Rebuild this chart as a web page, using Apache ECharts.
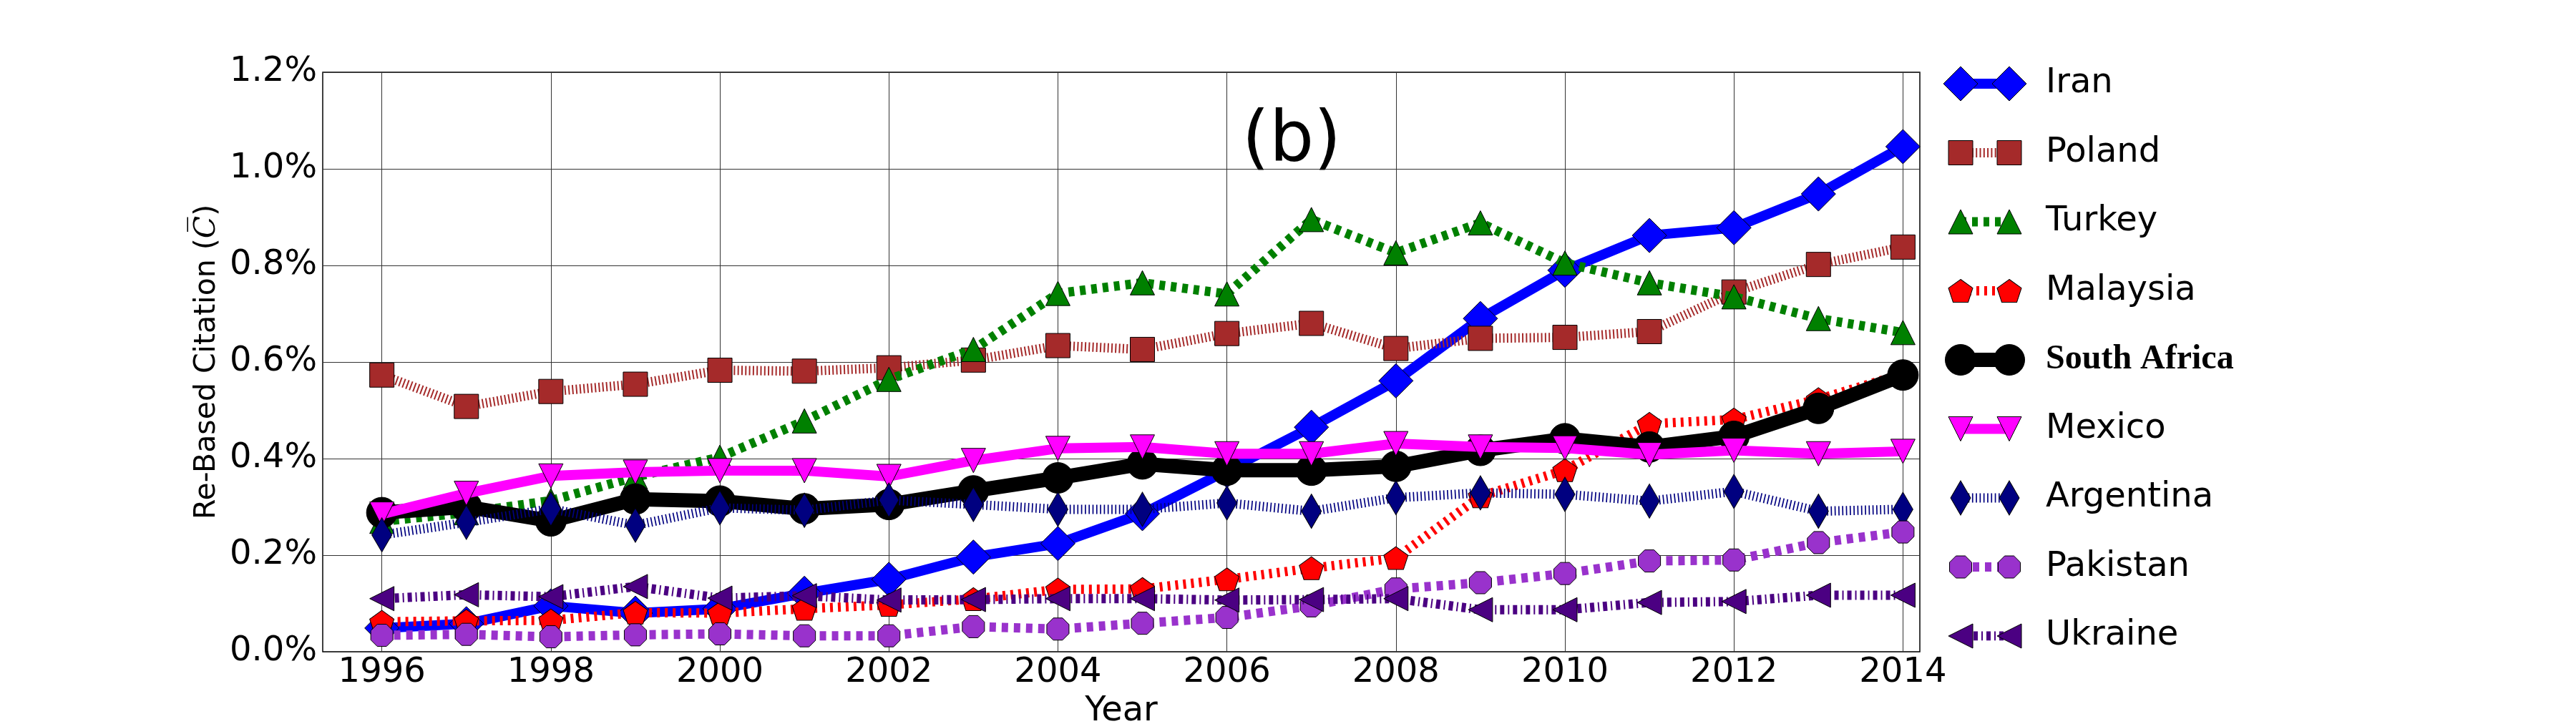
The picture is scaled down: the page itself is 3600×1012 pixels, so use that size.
<!DOCTYPE html>
<html>
<head>
<meta charset="utf-8">
<script src="https://cdn.jsdelivr.net/npm/echarts@6/dist/echarts.min.js"></script>
<style>
html, body { margin: 0; padding: 0; background: #fff; }
#chart { width: 3600px; height: 1012px; }
</style>
</head>
<body>
<div id="chart"></div>
<script>
// data (values in %)
var years = [1996, 1997, 1998, 1999, 2000, 2001, 2002, 2003, 2004, 2005, 2006, 2007, 2008, 2009, 2010, 2011, 2012, 2013, 2014];
var yearTicks = [1996, 1998, 2000, 2002, 2004, 2006, 2008, 2010, 2012, 2014];
var countries = ['Iran', 'Poland', 'Turkey', 'Malaysia', 'South Africa', 'Mexico', 'Argentina', 'Pakistan', 'Ukraine'];

var iran        = [0.049, 0.058, 0.095, 0.080, 0.089, 0.121, 0.150, 0.196, 0.224, 0.286, 0.375, 0.465, 0.561, 0.690, 0.790, 0.862, 0.878, 0.948, 1.046];
var poland      = [0.573, 0.508, 0.539, 0.554, 0.583, 0.581, 0.588, 0.604, 0.634, 0.626, 0.659, 0.680, 0.628, 0.649, 0.651, 0.663, 0.745, 0.802, 0.838];
var turkey      = [0.270, 0.288, 0.313, 0.362, 0.403, 0.478, 0.564, 0.626, 0.742, 0.764, 0.741, 0.895, 0.826, 0.888, 0.805, 0.764, 0.735, 0.690, 0.661];
var malaysia    = [0.062, 0.064, 0.065, 0.081, 0.080, 0.089, 0.097, 0.109, 0.129, 0.130, 0.150, 0.173, 0.194, 0.322, 0.376, 0.472, 0.481, 0.523, 0.575];
var southAfrica = [0.288, 0.300, 0.271, 0.316, 0.312, 0.296, 0.305, 0.333, 0.360, 0.389, 0.376, 0.376, 0.384, 0.417, 0.441, 0.424, 0.446, 0.504, 0.573];
var mexico      = [0.285, 0.328, 0.364, 0.372, 0.375, 0.375, 0.363, 0.396, 0.421, 0.424, 0.410, 0.410, 0.431, 0.424, 0.422, 0.408, 0.417, 0.410, 0.415];
var argentina   = [0.242, 0.268, 0.296, 0.262, 0.298, 0.293, 0.314, 0.305, 0.295, 0.295, 0.308, 0.291, 0.319, 0.329, 0.326, 0.312, 0.332, 0.291, 0.295];
var pakistan    = [0.034, 0.036, 0.031, 0.035, 0.037, 0.033, 0.033, 0.052, 0.047, 0.059, 0.071, 0.095, 0.130, 0.143, 0.162, 0.188, 0.190, 0.226, 0.248];
var ukraine     = [0.110, 0.118, 0.114, 0.135, 0.111, 0.116, 0.107, 0.108, 0.110, 0.110, 0.107, 0.108, 0.110, 0.087, 0.087, 0.102, 0.104, 0.117, 0.117];

var values = [iran, poland, turkey, malaysia, southAfrica, mexico, argentina, pakistan, ukraine];

// marker shapes
var pentagon = 'path://M0,-1L0.951,-0.309L0.588,0.809L-0.588,0.809L-0.951,-0.309Z';
var octagon  = 'path://M0.383,-0.924L0.924,-0.383L0.924,0.383L0.383,0.924L-0.383,0.924L-0.924,0.383L-0.924,-0.383L-0.383,-0.924Z';
var triDown  = 'path://M-1,-1L1,-1L0,1Z';
var triLeft  = 'path://M1,-1L1,1L-1,0Z';

// line looks, same order as countries
var looks = [
    {color: '#0000ff', width: 14, dash: 'solid',      symbol: 'diamond',  size: [48, 48]},
    {color: '#a52a2a', width: 13, dash: [2, 3.3],     symbol: 'rect',     size: [34, 34]},
    {color: '#008000', width: 13, dash: [8, 8],       symbol: 'triangle', size: [34, 34]},
    {color: '#ff0000', width: 13, dash: [4, 7],       symbol: pentagon,   size: [34, 32]},
    {color: '#000000', width: 20, dash: 'solid',      symbol: 'circle',   size: [43, 43]},
    {color: '#ff00ff', width: 14, dash: 'solid',      symbol: triDown,    size: [34, 34]},
    {color: '#000080', width: 13, dash: [1.7, 3.6],   symbol: 'diamond',  size: [28, 48]},
    {color: '#9932cc', width: 13, dash: [9, 8],       symbol: octagon,    size: [31, 31]},
    {color: '#4b0082', width: 13, dash: [6, 5, 2, 5], symbol: triLeft,    size: [34, 34]}
];

var font = 'DejaVu Sans';

function makeSeries(i, data, axis, tag) {
    var lk = looks[i];
    return {
        name: countries[i] + tag,
        type: 'line',
        xAxisIndex: axis,
        yAxisIndex: axis,
        data: data,
        z: 3 + i,
        symbol: lk.symbol,
        symbolSize: lk.size,
        showAllSymbol: true,
        lineStyle: {color: lk.color, width: lk.width, type: lk.dash, join: 'round'},
        itemStyle: {color: lk.color, borderColor: '#000', borderWidth: 1, opacity: 1},
        emphasis: {disabled: true},
        silent: true
    };
}

var series = [];
values.forEach(function (vals, i) {
    series.push(makeSeries(i, years.map(function (y, k) { return [y, vals[k]]; }), 0, ''));
});
// legend samples: a short line with a marker at each end
countries.forEach(function (c, i) {
    series.push(makeSeries(i, [[0, i], [1, i]], 1, ' key'));
});

var chart = echarts.init(document.getElementById('chart'), null, {renderer: 'canvas'});
chart.setOption({
    animation: false,
    backgroundColor: '#fff',
    textStyle: {fontFamily: font},
    grid: [
        {left: 451, top: 101, width: 2232, height: 810, show: true, borderColor: '#000', borderWidth: 1.5,
         containLabel: false, outerBoundsMode: 'none'},
        {left: 2740, top: 117, width: 68, height: 772, show: false, containLabel: false, outerBoundsMode: 'none'}
    ],
    xAxis: [
        {
            type: 'value', gridIndex: 0, min: 1995.3, max: 2014.2,
            axisLine: {show: false},
            axisTick: {show: false, customValues: yearTicks},
            axisLabel: {customValues: yearTicks, fontSize: 48, color: '#000', fontFamily: font, margin: 6,
                        formatter: function (v) { return String(v); }},
            splitLine: {show: true, lineStyle: {color: '#333', width: 1}},
            name: 'Year', nameLocation: 'middle', nameGap: 60,
            nameTextStyle: {fontSize: 48, color: '#000', fontFamily: font}
        },
        {type: 'value', gridIndex: 1, min: 0, max: 1, show: false}
    ],
    yAxis: [
        {
            type: 'value', gridIndex: 0, min: 0, max: 1.2, interval: 0.2,
            axisLine: {show: false},
            axisTick: {show: false},
            axisLabel: {fontSize: 48, color: '#000', fontFamily: font, margin: 8,
                        formatter: function (v) { return v.toFixed(1) + '%'; }},
            splitLine: {show: true, lineStyle: {color: '#333', width: 1}},
            name: '{t|Re-Based Citation (}{c|C\u0305}{t|)}',
            nameLocation: 'middle', nameRotate: 90, nameGap: 140,
            nameTextStyle: {
                rich: {
                    t: {fontSize: 41, fontFamily: font, color: '#000'},
                    c: {fontSize: 41, fontFamily: 'DejaVu Serif', fontStyle: 'italic', color: '#000'}
                }
            }
        },
        {
            type: 'value', gridIndex: 1, min: 0, max: 8, interval: 1, inverse: true, position: 'right',
            axisLine: {show: false}, axisTick: {show: false}, splitLine: {show: false},
            axisLabel: {
                margin: 51, fontSize: 48, color: '#000', fontFamily: font, align: 'left',
                formatter: function (v) {
                    var n = countries[v];
                    return n === 'South Africa' ? '{sa|' + n + '}' : n;
                },
                rich: {sa: {fontFamily: 'Liberation Serif', fontWeight: 'bold', fontSize: 48, color: '#000'}}
            }
        }
    ],
    graphic: [{
        type: 'text', z: 100,
        style: {text: '(b)', x: 1805, y: 200, fontSize: 98, fontFamily: font, fill: '#000',
                align: 'center', verticalAlign: 'middle'}
    }],
    series: series
});
</script>
</body>
</html>
